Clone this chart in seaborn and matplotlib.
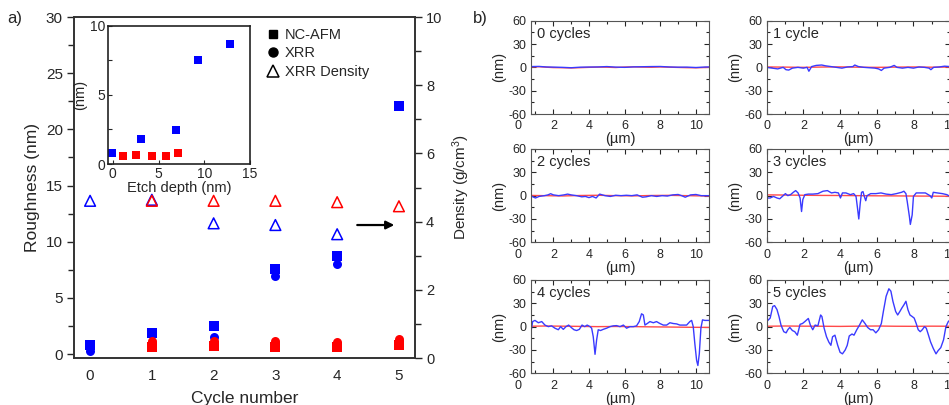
import numpy as np
import matplotlib
matplotlib.use('Agg')
import matplotlib.pyplot as plt
import seaborn as sns
from matplotlib.ticker import MultipleLocator
from matplotlib.lines import Line2D

BLUE = '#0000ff'
RED = '#ff0000'
LBLUE = '#3a3aff'
LRED = '#ff4a4a'

# ---- panel a data ----
cycles = [0, 1, 2, 3, 4, 5]
blue_afm = [0.8, 1.84, 2.5, 7.6, 8.76, 22.07]
blue_xrr = [0.27, np.nan, 1.54, 6.95, 8.05, np.nan]
red_afm = [np.nan, 0.65, 0.7, 0.65, 0.65, 0.85]
red_xrr = [np.nan, 1.15, 1.2, 1.2, 1.1, 1.35]
blue_density = [4.61, 4.64, 3.95, 3.9, 3.63, np.nan]
red_density = [np.nan, 4.61, 4.61, 4.61, 4.57, 4.45]

# inset: roughness vs etch depth
etch_blue_x = [-0.1, 3.07, 6.94, 9.35, 12.86]
etch_blue_y = [0.77, 1.81, 2.46, 7.52, 8.65]
etch_red_x = [1.16, 2.55, 4.31, 5.77, 7.08]
etch_red_y = [0.6, 0.65, 0.58, 0.6, 0.77]

legend_labels = ['NC-AFM', 'XRR', 'XRR Density']

# ---- panel b profiles (x in um, height in nm) ----
p0_x = [0.75, 1.2, 1.6, 2.0, 2.5, 3.0, 3.5, 4.0, 4.5, 5.0, 5.5, 6.0, 6.5, 7.0, 7.5, 8.0, 8.5, 9.0, 9.5, 10.0, 10.5, 10.75]
p0_blue = [1.0, 1.2, 0.5, 0.3, 0.0, -0.5, 0.2, 0.4, 0.5, 1.0, 0.3, 0.0, 0.6, 0.8, 1.0, 1.1, 0.5, 0.2, 0.3, -0.2, 0.4, 0.5]
p0_red = [0.5, 0.8, 0.2, -0.3, -0.5, -0.8, -0.4, 0.0, 0.3, 0.2, -0.2, 0.4, 0.6, 0.3, 0.1, 0.5, 0.2, -0.1, -0.4, -0.6, -0.2, 0.0]

p1_x = [0, 0.3, 0.6, 0.9, 1.05, 1.2, 1.4, 1.7, 2.0, 2.2, 2.3, 2.45, 2.7, 3.0, 3.2, 3.5, 3.8, 4.1, 4.4, 4.7, 4.8,
        5.0, 5.3, 5.6, 5.9, 6.1, 6.25, 6.4, 6.7, 6.95, 7.1, 7.4, 7.7, 8.0, 8.3, 8.6, 8.85, 8.95, 9.1, 9.4, 9.7, 10.0]
p1_blue = [0, -1, -2, 0, -3, -3.5, -1, 0, -1, 0, -5, 1, 2.5, 3, 2, 1, 0, -1, 0.5, 1, 3,
           1, 0, -0.5, -1, -2, -4, -1, 0, 2.5, 0, -1, 0, -1, 0.5, 0, -1, -3, 0, 0.5, 1.5, 1]
red_x_right = [0, 1, 2, 3, 4, 5, 6, 7, 8, 9, 10]
p1_red = [0.5, 0.3, 0.0, 0.4, 0.6, 0.2, 0.0, 0.3, 0.5, 0.2, 0.4]

p2_x = [0.73, 0.9, 1.0, 1.2, 1.5, 1.7, 1.85, 2.0, 2.3, 2.6, 2.8, 3.0, 3.3, 3.6, 3.8, 4.0, 4.2, 4.4, 4.6, 4.9,
        5.2, 5.5, 5.8, 6.1, 6.4, 6.7, 7.0, 7.2, 7.5, 7.8, 8.1, 8.4, 8.7, 9.0, 9.2, 9.4, 9.7, 10.0, 10.3, 10.75]
p2_blue = [0, -2, -3, -1, 0, 1, 2.5, 1, 0, 1, 2, 1, 0, -1.5, -1, -2.5, -1, -3, 2, 0,
           -1, 0.5, 0, 0.5, 0, 1, -2, -1.5, 0, -1, 0, -0.5, 1, 1.5, 0, -2, 1, 1.5, 0, 0]
red_x_left = [0.73, 1.5, 2.5, 3.5, 4.5, 5.5, 6.5, 7.5, 8.5, 9.5, 10.75]
p2_red = [0.3, 0.0, -0.4, 0.2, 0.5, 0.0, -0.3, 0.2, 0.4, 0.0, -0.5]

p3_x = [0, 0.19, 0.37, 0.56, 0.71, 0.9, 1.02, 1.15, 1.3, 1.45, 1.58, 1.71, 1.82, 1.9, 1.97, 2.08, 2.27, 2.51,
        2.79, 3.07, 3.31, 3.53, 3.72, 3.91, 4.02, 4.13, 4.32, 4.56, 4.74, 4.87, 4.95, 5.02, 5.1, 5.17, 5.25,
        5.32, 5.4, 5.47, 5.67, 5.95, 6.23, 6.51, 6.79, 7.07, 7.35, 7.48, 7.59, 7.66, 7.78, 7.83, 7.93, 8.0,
        8.15, 8.37, 8.65, 8.9, 9.0, 9.08, 9.3, 9.58, 9.82, 10.0]
p3_blue = [-3, -3, -1, -3, -4, 0, 2.6, 0, 1.3, 4.3, 6.5, 3.5, -3, -20.4, -5, 1.3, 2, 2,
           2.6, 5.7, 6.5, 3.5, 4.3, 3.5, -3, 3.5, 3.5, 1.3, 2.6, -1, -16, -30, -9.6, 4.3, 5.2,
           -1, -6.5, 0, 2.6, 2.6, 3.5, 2, 1.3, 2.6, 4.3, 5.7, 2.6, -7.4, -27, -37, -24.8, -1,
           3.5, 3.5, 3.5, 0, -3, 4.3, 3.5, 2.6, 1.3, -1]
p3_red = [1.0, 0.8, 0.5, 0.3, 0.2, 0.0, -0.2, -0.3, -0.5, -0.6, -0.8]

p4_x = [0.73, 0.84, 0.97, 1.16, 1.35, 1.53, 1.72, 1.9, 2.09, 2.28, 2.41, 2.56, 2.71, 2.86, 3.0, 3.16, 3.31,
        3.46, 3.61, 3.76, 3.9, 4.06, 4.15, 4.24, 4.34, 4.43, 4.52, 4.65, 4.8, 4.99, 5.18, 5.36, 5.55, 5.74,
        5.93, 6.11, 6.3, 6.49, 6.67, 6.82, 6.95, 7.05, 7.14, 7.27, 7.42, 7.61, 7.79, 7.98, 8.17, 8.36, 8.54,
        8.73, 8.92, 9.1, 9.29, 9.48, 9.66, 9.76, 9.85, 9.94, 10.04, 10.11, 10.19, 10.28, 10.37, 10.5, 10.75]
p4_blue = [-9, 6.5, 8, 5, 6.5, 2, 0, 1, -2, -4, 0, -3.5, 0, 2, -1, -4, -5,
           -3.5, 2, 0, 2, 0, -2, -13, -35.6, -17, -4, -5, -3.5, -2, 0, 1, 1.3, 0,
           2, -2, 0, 0, 1, 6.5, 16.5, 15, 2, 4, 6.5, 5, 6.5, 4, 2, 2, 5,
           4, 3.5, 2, 2, 2, 6.5, 8, 0, -22, -43.5, -50, -35, -2, 8.7, 8, 8]
p4_red = [0.5, 0.8, 0.6, 0.3, 0.0, 0.2, 0.0, -0.3, -0.5, -0.8, -1.0]

p5_x = [0, 0.19, 0.33, 0.43, 0.56, 0.67, 0.78, 0.93, 1.06, 1.15, 1.26, 1.4, 1.53, 1.67, 1.82, 1.95, 2.08,
        2.27, 2.38, 2.51, 2.64, 2.79, 2.94, 3.01, 3.13, 3.26, 3.39, 3.5, 3.59, 3.72, 3.87, 4.0, 4.13, 4.28,
        4.39, 4.5, 4.65, 4.76, 4.91, 5.06, 5.21, 5.36, 5.5, 5.66, 5.8, 5.95, 6.1, 6.25, 6.36, 6.51, 6.66,
        6.77, 6.88, 7.03, 7.14, 7.26, 7.37, 7.48, 7.59, 7.7, 7.81, 7.93, 8.04, 8.15, 8.26, 8.37, 8.48, 8.6,
        8.7, 8.82, 8.93, 9.08, 9.23, 9.34, 9.49, 9.64, 9.77, 9.9, 10.0]
p5_blue = [6.5, 11, 26, 27, 22, 13, 2, -6.5, -8, -4, -1, -5, -6.5, -11, 3, 4, 6.5,
           10.5, 2, -4, 2, 1, 15, 13, -2, -13, -20, -24, -13, -11, -24, -33, -35, -30,
           -24, -12, -9.5, -11, -4, 2, 8.7, 4, -1, -4, -4, -8, -4, 4, 19.5, 39, 48.7,
           45.6, 32.6, 19.5, 15, 19.5, 24, 28, 32.6, 21.7, 15, 13, 11, 4, -4, -6.5, -4, 0,
           -2, -11, -19.5, -28, -35, -31, -27, -17, 0, 6.5, 8.7]
p5_red = [0.5, 0.8, 0.6, 0.5, 0.3, 0.6, 0.8, 0.5, 0.4, 0.6, 0.5]

profiles = [
    ('0 cycles', p0_x, p0_blue, p0_x, p0_red),
    ('1 cycle', p1_x, p1_blue, red_x_right, p1_red),
    ('2 cycles', p2_x, p2_blue, red_x_left, p2_red),
    ('3 cycles', p3_x, p3_blue, red_x_right, p3_red),
    ('4 cycles', p4_x, p4_blue, red_x_left, p4_red),
    ('5 cycles', p5_x, p5_blue, red_x_right, p5_red),
]

sns.set_style("ticks")
plt.rcParams['font.family'] = ['Liberation Sans', 'DejaVu Sans']
plt.rcParams['mathtext.default'] = 'regular'
plt.rcParams['axes.unicode_minus'] = False

fig = plt.figure(figsize=(9.49, 4.05), dpi=100)

# ---------------- panel a ----------------
ax = fig.add_axes([0.078, 0.116, 0.3593, 0.842])
ax2 = ax.twinx()

sns.scatterplot(x=cycles, y=blue_afm, ax=ax, marker='s', color=BLUE, s=42, linewidth=0, zorder=3)
sns.scatterplot(x=cycles, y=blue_xrr, ax=ax, marker='o', color=BLUE, s=42, linewidth=0, zorder=3)
sns.scatterplot(x=cycles, y=red_afm, ax=ax, marker='s', color=RED, s=42, linewidth=0, zorder=4)
sns.scatterplot(x=cycles, y=red_xrr, ax=ax, marker='o', color=RED, s=42, linewidth=0, zorder=4)
sns.scatterplot(x=cycles, y=blue_density, ax=ax2, marker='^', s=60,
                facecolor='none', edgecolor=BLUE, linewidth=1.1)
sns.scatterplot(x=cycles, y=red_density, ax=ax2, marker='^', s=60,
                facecolor='none', edgecolor=RED, linewidth=1.1)

ax.set_xlim(-0.26, 5.26)
ax.set_ylim(-0.35, 30)
ax2.set_ylim(0, 10)
ax.set_xticks(cycles)
ax.yaxis.set_major_locator(MultipleLocator(5))
ax.yaxis.set_minor_locator(MultipleLocator(2.5))
ax2.yaxis.set_major_locator(MultipleLocator(2))
ax2.yaxis.set_minor_locator(MultipleLocator(1))
ax.tick_params(axis='y', which='major', direction='out', length=5, width=1, labelsize=11, pad=3)
ax.tick_params(axis='y', which='minor', direction='out', length=4, width=1)
ax.tick_params(axis='x', length=0, labelsize=11, pad=8)
ax2.tick_params(axis='y', which='major', direction='out', length=5, width=1, labelsize=10.5, pad=3)
ax2.tick_params(axis='y', which='minor', direction='out', length=4, width=1)
for a in (ax, ax2):
    for sp in a.spines.values():
        sp.set_visible(True)
        sp.set_linewidth(1.2)
        sp.set_color('#333333')
ax.set_xlabel('Cycle number', fontsize=12.5, labelpad=6)
ax.set_ylabel('Roughness (nm)', fontsize=12.5, labelpad=4)
ax2.set_ylabel('Density (g/cm$^3$)', fontsize=11, labelpad=6)

ax2.annotate('', xy=(4.97, 3.9), xytext=(4.28, 3.9),
             arrowprops=dict(arrowstyle='-|>', color='black', lw=1.6, mutation_scale=12))

handles = [Line2D([], [], marker='s', ls='', color='black', markersize=6),
           Line2D([], [], marker='o', ls='', color='black', markersize=6.5),
           Line2D([], [], marker='^', ls='', markerfacecolor='none', markeredgecolor='black',
                  markeredgewidth=1.1, markersize=8)]
ax2.legend(handles, legend_labels, loc='upper left', bbox_to_anchor=(0.545, 0.985), frameon=False,
           fontsize=10.5, handletextpad=0.3, labelspacing=0.3, handlelength=1.0, borderaxespad=0)

# inset
axin = fig.add_axes([0.1135, 0.595, 0.150, 0.3415])
axin.set_facecolor('white')
sns.scatterplot(x=etch_blue_x, y=etch_blue_y, ax=axin, marker='s', color=BLUE, s=26, linewidth=0)
sns.scatterplot(x=etch_red_x, y=etch_red_y, ax=axin, marker='s', color=RED, s=26, linewidth=0)
axin.set_xlim(-0.55, 15)
axin.set_ylim(0, 10)
axin.set_xticks([0, 5, 10, 15])
axin.yaxis.set_major_locator(MultipleLocator(5))
axin.yaxis.set_minor_locator(MultipleLocator(2.5))
axin.tick_params(which='both', direction='in', length=3, width=0.8, labelsize=10, pad=2)
for sp in axin.spines.values():
    sp.set_visible(True)
    sp.set_linewidth(1.2)
    sp.set_color('#222222')
axin.set_xlabel('Etch depth (nm)', fontsize=10.5, labelpad=0)
axin.set_ylabel('(nm)', fontsize=10.5, labelpad=2)

fig.text(0.008, 0.955, 'a)', fontsize=12, va='center')
fig.text(0.498, 0.955, 'b)', fontsize=12, va='center')

# ---------------- panel b ----------------
rows_y = [0.7185, 0.4017, 0.0783]
col_left = [0.5592, 0.1882]
col_right = [0.8079, 0.1933]
for i, (label, bx, by, rx, ry) in enumerate(profiles):
    row, col = divmod(i, 2)
    x0, w = col_left if col == 0 else col_right
    axp = fig.add_axes([x0, rows_y[row], w, 0.2304])
    sns.lineplot(x=rx, y=ry, ax=axp, color=LRED, lw=1.0, estimator=None, sort=False)
    sns.lineplot(x=bx, y=by, ax=axp, color=LBLUE, lw=1.0, estimator=None, sort=False)
    if col == 0:
        axp.set_xlim(0.73, 10.75)
        # the reference prints a "0" just left of the frame
        axp.annotate('0', xy=(0, 0), xycoords=('data', 'axes fraction'), xytext=(0, -4.5),
                     textcoords='offset points', ha='center', va='top', fontsize=9,
                     annotation_clip=False)
    else:
        axp.set_xlim(0, 10)
    axp.set_ylim(-60, 60)
    axp.set_xticks([2, 4, 6, 8, 10] if col == 0 else [0, 2, 4, 6, 8, 10])
    axp.xaxis.set_minor_locator(MultipleLocator(1))
    axp.set_yticks([-60, -30, 0, 30, 60])
    axp.yaxis.set_minor_locator(MultipleLocator(15))
    axp.tick_params(which='major', direction='in', top=True, right=True, length=3.5, width=0.8,
                    labelsize=9, pad=3)
    axp.tick_params(axis='x', which='major', pad=4.5)
    axp.tick_params(which='minor', direction='in', top=True, right=True, length=2, width=0.8)
    for sp in axp.spines.values():
        sp.set_visible(True)
        sp.set_linewidth(0.8)
        sp.set_color('#555555')
    axp.set_ylabel('(nm)', fontsize=10.5, labelpad=2)
    axp.set_xlabel('(µm)', fontsize=10.5, labelpad=0)
    axp.text(0.034, 0.86, label, transform=axp.transAxes, fontsize=10.5, va='center', ha='left')

fig.savefig('out.png', dpi=100)
